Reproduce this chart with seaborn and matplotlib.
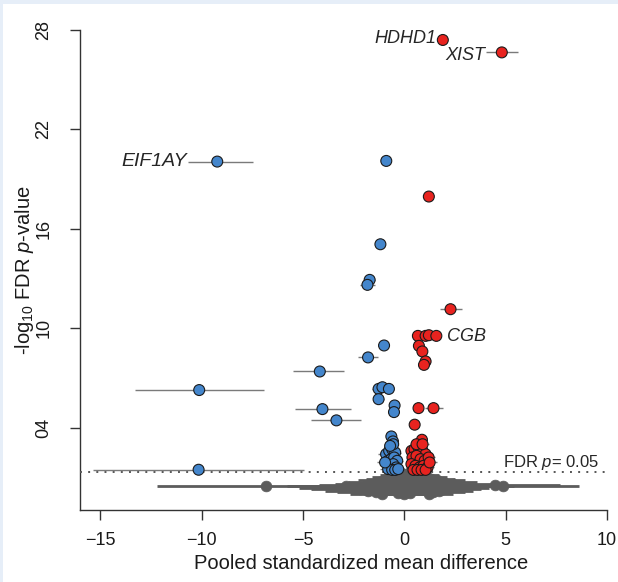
import numpy as np
import pandas as pd
import matplotlib
matplotlib.use('Agg')
import matplotlib.pyplot as plt
from matplotlib.patches import Rectangle
import seaborn as sns

# ==========================================
# Data
# ==========================================
# non-significant genes: effect size, -log10 FDR, CI low, CI high
ns_es = [-2.9, -2.5, -2.2, -1.8, -1.4, -1.1, -1.8, -1.5, -1.2, -1.0,
         -0.8, -0.6, -0.5, -0.3, -0.2,
         1.2, 1.4, 1.7, 1.9, 2.1, 4.45, 4.86, 2.6, 2.4, 1.9,
         1.6, 1.3, 1.1, 0.9, 0.6, 0.3,
         0.0, -0.3, 0.3, 0.0, -0.2, 0.2, 0.0, -0.1, 0.1, 0.0,
         -0.1, 0.1, -6.8]
ns_y = [0.45, 0.38, 0.3, 0.2, 0.1, 0.0, 0.55, 0.62, 0.72, 0.82,
        0.92, 1.02, 1.12, 1.22, 1.3,
        0.0, 0.1, 0.2, 0.3, 0.38, 0.56, 0.5, 0.45, 0.62, 0.72,
        0.82, 0.92, 1.02, 1.12, 1.22, 1.3,
        0.0, 0.05, 0.05, 0.15, 0.3, 0.4, 0.5, 0.65, 0.8, 0.95,
        1.1, 1.2, 0.45]
ns_lo = [-5.8, -5.2, -4.6, -3.9, -3.3, -2.7, -4.2, -3.4, -2.8, -2.3,
         -1.9, -1.6, -1.2, -0.9, -0.6,
         -0.2, -0.2, 0.0, 0.0, 0.0, 1.2, 1.1, 0.2, 0.4, 0.2,
         0.2, 0.2, 0.2, 0.1, 0.0, -0.1,
         -1.5, -1.8, -1.0, -1.6, -1.8, -1.2, -1.4, -1.2, -1.0, -0.8,
         -0.7, -0.4, -12.2]
ns_hi = [0.0, 0.2, 0.2, 0.3, 0.5, 0.5, 0.5, 0.4, 0.4, 0.3,
         0.3, 0.4, 0.2, 0.3, 0.2,
         2.4, 3.0, 3.4, 3.8, 4.2, 7.7, 8.6, 5.4, 4.4, 3.6,
         3.0, 2.5, 2.1, 1.7, 1.2, 0.7,
         1.5, 1.2, 1.6, 1.6, 1.4, 1.6, 1.4, 1.0, 1.2, 0.8,
         0.5, 0.6, -1.4]

# down-regulated (blue) significant genes
dn_es = [-9.23, -0.89, -1.18, -1.71, -1.82, -1.0, -1.79, -4.17, -10.12, -1.27,
         -1.08, -0.76, -1.27, -0.48, -0.51, -4.04, -3.35, -10.15, -0.64, -0.56,
         -0.9, -0.75, -0.6, -0.45, -0.8, -0.65, -0.5, -0.35, -0.7, -0.55,
         -0.4, -0.8, -0.6, -0.45, -0.3, -0.95, -0.55, -0.7]
dn_y = [20.06, 20.1, 15.07, 12.92, 12.62, 8.96, 8.24, 7.39, 6.27, 6.34,
        6.44, 6.34, 5.72, 5.34, 4.94, 5.12, 4.44, 1.46, 3.47, 3.17,
        2.4, 2.6, 2.7, 2.5, 2.0, 2.1, 2.2, 2.0, 1.7, 1.8,
        1.6, 1.5, 1.45, 1.45, 1.5, 1.9, 3.0, 2.9]
dn_lo = [-10.67, -1.1, -1.4, -2.0, -2.2, -1.2, -2.3, -5.49, -13.29, -1.6,
         -1.35, -1.0, -1.5, -0.65, -0.7, -5.37, -4.58, -15.37, -0.85, -0.8,
         -1.3, -1.1, -0.9, -0.75, -1.2, -1.0, -0.85, -0.65, -1.1, -0.9,
         -0.7, -1.2, -0.95, -0.8, -0.55, -1.35, -0.8, -1.0]
dn_hi = [-7.47, -0.7, -0.95, -1.45, -1.45, -0.8, -1.3, -2.97, -6.92, -0.95,
         -0.8, -0.5, -1.0, -0.3, -0.3, -2.64, -2.15, -4.96, -0.45, -0.35,
         -0.5, -0.4, -0.3, -0.15, -0.4, -0.3, -0.15, -0.05, -0.3, -0.2,
         -0.1, -0.4, -0.25, -0.1, -0.05, -0.55, -0.3, -0.4]

# up-regulated (red) significant genes
up_es = [1.9, 4.81, 1.21, 2.28, 0.67, 1.05, 1.21, 1.58, 0.72, 0.89,
         1.05, 0.97, 0.70, 1.44, 0.51, 0.87,
         0.35, 0.5, 0.7, 0.9, 1.05, 0.4, 0.6, 0.8, 1.0, 1.2,
         0.35, 0.55, 0.75, 0.95, 1.15, 0.45, 0.65, 0.85, 1.05, 1.25, 0.6, 0.9]
up_y = [27.4, 26.65, 17.95, 11.15, 9.54, 9.54, 9.58, 9.54, 8.94, 8.60,
        8.0, 7.79, 5.18, 5.18, 4.18, 3.27,
        2.6, 2.7, 2.8, 2.6, 2.4, 2.2, 2.3, 2.1, 2.0, 2.2,
        1.8, 1.7, 1.6, 1.7, 1.6, 1.45, 1.45, 1.45, 1.45, 1.9, 3.0, 3.0]
up_lo = [1.75, 4.04, 1.05, 1.74, 0.5, 0.9, 1.05, 1.4, 0.55, 0.7,
         0.85, 0.8, 0.5, 1.0, 0.35, 0.65,
         0.1, 0.25, 0.4, 0.6, 0.75, 0.15, 0.35, 0.5, 0.7, 0.9,
         0.1, 0.3, 0.45, 0.65, 0.85, 0.2, 0.4, 0.55, 0.75, 0.95, 0.35, 0.6]
up_hi = [2.05, 5.63, 1.4, 2.84, 0.85, 1.2, 1.4, 1.75, 0.9, 1.05,
         1.25, 1.15, 0.9, 1.9, 0.65, 1.1,
         0.6, 0.75, 1.0, 1.2, 1.35, 0.65, 0.85, 1.1, 1.3, 1.5,
         0.6, 0.8, 1.05, 1.25, 1.45, 0.7, 0.9, 1.15, 1.35, 1.6, 0.85, 1.2]

# labelled genes: name -> index in its group
labels_up = {'HDHD1': 0, 'XIST': 1, 'CGB': 7}
labels_dn = {'EIF1AY': 0}

fdr_line = -np.log10(0.05)

# ==========================================
# Frames
# ==========================================
ns = pd.DataFrame({'es': ns_es, 'y': ns_y, 'lo': ns_lo, 'hi': ns_hi})
ns['group'] = 'ns'
dn = pd.DataFrame({'es': dn_es, 'y': dn_y, 'lo': dn_lo, 'hi': dn_hi})
dn['group'] = 'down'
up = pd.DataFrame({'es': up_es, 'y': up_y, 'lo': up_lo, 'hi': up_hi})
up['group'] = 'up'
sig = pd.concat([dn, up], ignore_index=True)

# ==========================================
# Plot
# ==========================================
sns.set_style('ticks')
plt.rcParams['font.family'] = ['Liberation Sans', 'DejaVu Sans']
plt.rcParams['mathtext.fontset'] = 'custom'
plt.rcParams['mathtext.rm'] = 'Liberation Sans'
plt.rcParams['mathtext.it'] = 'Liberation Sans:italic'

fig = plt.figure(figsize=(6.18, 5.82), dpi=100)
fig.patch.set_facecolor('#e6eef8')
fig.add_artist(Rectangle((3 / 618, 0), 1, 1 - 4 / 582, transform=fig.transFigure,
                         facecolor='white', edgecolor='none', zorder=-1))
ax = fig.add_axes([0.1295, 0.1237, 0.8527, 0.8247])

gray = '#5c5c5c'
ax.hlines(ns['y'], ns['lo'], ns['hi'], color=gray, lw=2.0, zorder=1)
sns.scatterplot(data=ns, x='es', y='y', color=gray, edgecolor=gray,
                s=60, linewidth=0.5, legend=False, ax=ax, zorder=2)

ax.axhline(fdr_line, color='#555555', lw=1.4, ls=(0, (1, 3.2)), zorder=3)

ax.hlines(sig['y'], sig['lo'], sig['hi'], color='#7a7a7a', lw=1.0, zorder=4)
sns.scatterplot(data=sig, x='es', y='y', hue='group',
                palette={'down': '#4486cc', 'up': '#e8231f'},
                edgecolor='#1a1a1a', linewidth=0.8, s=62, legend=False,
                ax=ax, zorder=5)

# gene labels
lab_kw = dict(style='italic', va='center', zorder=6)
ax.text(up['es'][labels_up['HDHD1']] - 0.3, up['y'][labels_up['HDHD1']] + 0.1,
        'HDHD1', ha='right', fontsize=13, **lab_kw)
ax.text(up['lo'][labels_up['XIST']] - 0.05, up['y'][labels_up['XIST']] - 0.2,
        'XIST', ha='right', fontsize=13, **lab_kw)
ax.text(up['es'][labels_up['CGB']] + 0.55, up['y'][labels_up['CGB']] - 0.05,
        'CGB', ha='left', fontsize=13, **lab_kw)
ax.text(dn['lo'][labels_dn['EIF1AY']] - 0.05, dn['y'][labels_dn['EIF1AY']],
        'EIF1AY', ha='right', fontsize=14, **lab_kw)

ax.text(9.6, fdr_line + 0.3, 'FDR $p$= 0.05', ha='right', va='baseline',
        fontsize=12, zorder=6)

ax.set_xlim(-16, 10)
ax.set_ylim(-0.97, 28)
ax.set_xticks([-15, -10, -5, 0, 5, 10])
ax.set_yticks([4, 10, 16, 22, 28])
ax.set_yticklabels(['04', '10', '16', '22', '28'], rotation=90, va='center')
ax.tick_params(axis='both', length=7, width=1, color='#333333',
               labelsize=13, labelcolor='#1a1a1a')
ax.tick_params(axis='y', pad=13)
ax.tick_params(axis='x', pad=9)
for side in ['top', 'right']:
    ax.spines[side].set_visible(False)
for side in ['left', 'bottom']:
    ax.spines[side].set_color('#333333')
    ax.spines[side].set_linewidth(1)

ax.set_xlabel('Pooled standardized mean difference', fontsize=14.5, color='#1a1a1a')
ax.set_ylabel('-log$_{10}$ FDR $p$-value', fontsize=14.5, color='#1a1a1a')
ax.xaxis.set_label_coords(0.534, -0.092)
ax.yaxis.set_label_coords(-0.084, 0.5)

fig.savefig('out.png', dpi=100, facecolor=fig.get_facecolor())
